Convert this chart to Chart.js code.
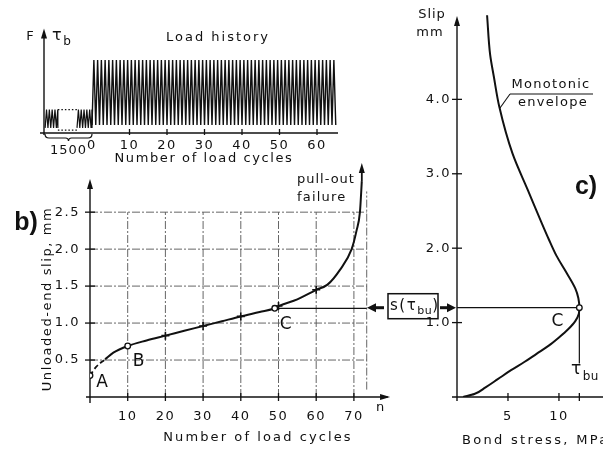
<!DOCTYPE html>
<html lang="en">
<head>
<meta charset="UTF-8">
<title>Bond slip under cyclic loading</title>
<script src="https://cdn.jsdelivr.net/npm/chart.js"></script>
<style>
  body { margin: 0; background: #fff; }
  #wrap { position: relative; width: 603px; height: 451px; overflow: hidden; background: #fff; }
  canvas { position: absolute; }
  #loadChart { left: 0; top: 0; }
  #slipChart { left: 0; top: 150px; }
  #bondChart { left: 360px; top: 0; }
</style>
</head>
<body>
<div id="wrap">
  <canvas id="loadChart" width="345" height="170"></canvas>
  <canvas id="slipChart" width="400" height="301"></canvas>
  <canvas id="bondChart" width="243" height="451"></canvas>
</div>
<script>
// ---- load history (top) ----
const preLoad = [0.07, 0.32];               // low / high of the 1500 pre-cycles
const preParts = [[-12.5, -9.1], [-4.0, 0]]; // drawn bits either side of the gap (compressed axis)
const mainLoad = [0.11, 1.0];               // low / high of the test cycles
const mainCycles = 65;
const loadTicks = [0, 10, 20, 30, 40, 50, 60];

// ---- b) unloaded-end slip vs number of cycles ----
const startN = [0, 1.5, 4];
const startSlip = [0.29, 0.40, 0.51];
const curveN = [4, 6.2, 10, 15, 20, 25, 30, 35, 40, 45, 49, 50, 55, 60, 63, 66.3, 69.4, 70.7, 71.6, 72.1];
const curveSlip = [0.51, 0.60, 0.69, 0.765, 0.83, 0.895, 0.96, 1.025, 1.09, 1.15, 1.2, 1.23, 1.32, 1.45, 1.52, 1.72, 2.0, 2.25, 2.5, 2.92];
const markN = [20, 30, 40, 50, 60];
const markSlip = [0.83, 0.96, 1.09, 1.23, 1.45];
const openN = [0, 10, 49];
const openSlip = [0.29, 0.69, 1.2];
const openNames = ['A', 'B', 'C'];
const cycleTicks = [0, 10, 20, 30, 40, 50, 60, 70];
const slipTicksB = [0, 0.5, 1.0, 1.5, 2.0, 2.5];
const lastGridN = 73.4;

// ---- c) monotonic envelope ----
const envStress = [0.6, 1.7, 2.8, 4.0, 5.3, 6.6, 7.8, 9.0, 10.0, 10.9, 11.6, 11.95, 12.0, 11.9, 11.6, 10.7, 9.75, 9.0, 8.3, 6.95, 5.45, 4.15, 3.62, 3.25, 2.95];
const envSlip = [0, 0.04, 0.13, 0.24, 0.36, 0.47, 0.58, 0.69, 0.8, 0.91, 1.02, 1.12, 1.2, 1.33, 1.46, 1.68, 1.9, 2.12, 2.34, 2.78, 3.27, 3.9, 4.3, 4.6, 5.13];
const tauBu = 12;
const sTauBu = 1.2;
const stressTicks = [0, 5, 10, 12];
const slipTicksC = [0, 1, 2, 3, 4];

const ink = '#111';
Chart.defaults.font.family = 'DejaVu Sans';
Chart.defaults.font.size = 13;
Chart.defaults.color = ink;

const pts = (xs, ys) => xs.map((v, i) => ({ x: v, y: ys[i] }));

function zigzag(from, to, step, lo, hi) {
  const out = [];
  for (let n = from; n < to - 1e-9; n += step) {
    out.push({ x: n, y: lo }, { x: n + step / 2, y: hi });
  }
  out.push({ x: to, y: lo });
  return out;
}

// small drawing helpers
function seg(ctx, x1, y1, x2, y2, w, dash) {
  ctx.save();
  ctx.strokeStyle = ink; ctx.lineWidth = w || 1.3;
  ctx.setLineDash(dash || []);
  ctx.beginPath(); ctx.moveTo(x1, y1); ctx.lineTo(x2, y2); ctx.stroke();
  ctx.restore();
}
function head(ctx, x, y, dir, l, w) {
  l = l || 9; w = w || 3;
  ctx.save(); ctx.fillStyle = ink; ctx.beginPath();
  if (dir === 'up') { ctx.moveTo(x, y); ctx.lineTo(x - w, y + l); ctx.lineTo(x + w, y + l); }
  if (dir === 'right') { ctx.moveTo(x, y); ctx.lineTo(x - l, y - w); ctx.lineTo(x - l, y + w); }
  if (dir === 'left') { ctx.moveTo(x, y); ctx.lineTo(x + l, y - w); ctx.lineTo(x + l, y + w); }
  ctx.closePath(); ctx.fill(); ctx.restore();
}
function txt(ctx, s, x, y, font, align, sp) {
  ctx.save();
  ctx.font = font || '13px DejaVu Sans';
  ctx.letterSpacing = sp || '1.5px';
  ctx.textAlign = align || 'left'; ctx.textBaseline = 'middle';
  ctx.fillStyle = ink; ctx.fillText(s, x, y);
  ctx.restore();
}
// "τ" with a subscript, returns end x
function tauSub(ctx, x, y, sub, size) {
  ctx.save();
  ctx.fillStyle = ink; ctx.textBaseline = 'middle'; ctx.textAlign = 'left';
  ctx.font = size + 'px DejaVu Sans';
  ctx.fillText('τ', x, y);
  const w = ctx.measureText('τ').width;
  ctx.font = Math.round(size * 0.72) + 'px DejaVu Sans';
  ctx.letterSpacing = '0.5px';
  ctx.fillText(sub, x + w, y + size * 0.38);
  const w2 = ctx.measureText(sub).width;
  ctx.restore();
  return x + w + w2;
}
const spacing = { id: 'spacing', beforeDraw(chart) { chart.ctx.letterSpacing = '1.5px'; } };

function fixedAxis(opts) {
  return Object.assign({
    type: 'linear',
    grid: { display: false, drawTicks: false },
    border: { display: false },
    ticks: { autoSkip: false, maxRotation: 0, font: { size: 13 } }
  }, opts);
}
const base = {
  responsive: false, animation: false, devicePixelRatio: 1, events: [],
  plugins: { legend: { display: false }, tooltip: { enabled: false } }
};

// ================= load history =================
new Chart(document.getElementById('loadChart'), {
  type: 'line',
  data: {
    datasets: [
      ...preParts.map(p => ({
        data: zigzag(p[0], p[1], 0.75, preLoad[0], preLoad[1]),
        borderColor: ink, borderWidth: 1.2, pointRadius: 0, tension: 0
      })),
      {
        data: zigzag(0, mainCycles, 1, mainLoad[0], mainLoad[1]),
        borderColor: ink, borderWidth: 1.4, pointRadius: 0, tension: 0
      }
    ]
  },
  options: Object.assign({}, base, {
    layout: { padding: { left: 0, right: 7, top: 27, bottom: 0 } },
    scales: {
      x: fixedAxis({
        min: -12.8, max: 65.6,
        afterBuildTicks: s => { s.ticks = loadTicks.map(v => ({ value: v })); },
        afterFit: s => { s.height = 37; },
        ticks: { autoSkip: false, maxRotation: 0, padding: 5, font: { size: 13 } }
      }),
      y: fixedAxis({
        min: 0, max: 1.45,
        afterFit: s => { s.width = 44; },
        ticks: { display: false }
      })
    }
  }),
  plugins: [spacing, {
    id: 'loadDeco',
    afterDatasetsDraw(chart) {
      const { ctx, scales: { x, y } } = chart;
      const x0 = x.getPixelForValue(x.min), y0 = y.getPixelForValue(0);
      seg(ctx, x0, y0 + 2, x0, y.getPixelForValue(1.3), 1.4);
      head(ctx, x0, y.getPixelForValue(1.43), 'up', 10, 3);
      seg(ctx, x0 - 4, y0, x.getPixelForValue(x.max), y0, 1.4);
      loadTicks.forEach(v => { if (v > 0) seg(ctx, x.getPixelForValue(v), y0 - 4, x.getPixelForValue(v), y0 + 2, 1.3); });
      // dotted gap between the two drawn bits of the 1500 cycles
      const g1 = x.getPixelForValue(preParts[0][1]), g2 = x.getPixelForValue(preParts[1][0]);
      seg(ctx, g1, y.getPixelForValue(preLoad[1]), g2, y.getPixelForValue(preLoad[1]), 1.2, [1.5, 2]);
      seg(ctx, g1, y.getPixelForValue(0.04), g2, y.getPixelForValue(0.04), 1.2, [1.5, 2]);
      // brace under the pre-cycles
      const bl = x0 + 1, br = x.getPixelForValue(0), bm = (bl + br) / 2, by = y0 + 5;
      ctx.save(); ctx.strokeStyle = ink; ctx.lineWidth = 1.2; ctx.beginPath();
      ctx.moveTo(bl, y0 + 1); ctx.quadraticCurveTo(bl, by, bl + 4, by);
      ctx.lineTo(bm - 3, by); ctx.quadraticCurveTo(bm, by, bm, by + 3);
      ctx.quadraticCurveTo(bm, by, bm + 3, by); ctx.lineTo(br - 4, by);
      ctx.quadraticCurveTo(br, by, br, y0 + 1); ctx.stroke(); ctx.restore();
      txt(ctx, '1500', bm, 151, '13px DejaVu Sans', 'center', '1px');
      txt(ctx, 'Number of load cycles', 204, 158.5, '13px DejaVu Sans', 'center', '1.6px');
      txt(ctx, 'Load history', 218, 38, '13px DejaVu Sans', 'center', '2px');
      txt(ctx, 'F', 30, 37, '13px DejaVu Sans', 'center', '0px');
      tauSub(ctx, 52, 36, 'b', 16);
    }
  }]
});

// ================= b) slip vs cycles =================
new Chart(document.getElementById('slipChart'), {
  type: 'line',
  data: {
    datasets: [
      { data: pts(openN, openSlip), showLine: false, pointStyle: 'circle', pointRadius: 2.8, pointBackgroundColor: '#fff', pointBorderColor: ink, pointBorderWidth: 1.3 },
      { data: pts(markN, markSlip), showLine: false, pointStyle: 'cross', pointRadius: 4, pointBorderColor: ink, pointBorderWidth: 1.6 },
      { data: pts(curveN, curveSlip), borderColor: ink, borderWidth: 2, pointRadius: 0, cubicInterpolationMode: 'monotone' },
      { data: pts(startN, startSlip), borderColor: ink, borderWidth: 1.8, borderDash: [5, 3], pointRadius: 0, cubicInterpolationMode: 'monotone' },
      { data: [{ x: openN[2], y: sTauBu }, { x: lastGridN, y: sTauBu }], borderColor: ink, borderWidth: 1.3, pointRadius: 0, tension: 0 }
    ]
  },
  options: Object.assign({}, base, {
    layout: { padding: { left: 0, right: 8.4, top: 12.6, bottom: 0 } },
    scales: {
      x: fixedAxis({
        min: 0, max: 80,
        afterBuildTicks: s => { s.ticks = cycleTicks.map(v => ({ value: v })); },
        afterFit: s => { s.height = 54; },
        ticks: { autoSkip: false, maxRotation: 0, padding: 12, font: { size: 13 }, callback: v => (v === 0 ? '' : v) }
      }),
      y: fixedAxis({
        min: 0, max: 3.1,
        afterBuildTicks: s => { s.ticks = slipTicksB.map(v => ({ value: v })); },
        afterFit: s => { s.width = 90; },
        ticks: { autoSkip: false, padding: 10, font: { size: 13 }, callback: v => (v === 0 ? '' : v.toFixed(1)) }
      })
    }
  }),
  plugins: [spacing, {
    id: 'slipDeco',
    beforeDatasetsDraw(chart) {
      const { ctx, scales: { x, y } } = chart;
      const px = v => x.getPixelForValue(v), py = v => y.getPixelForValue(v);
      // grid
      ctx.save(); ctx.strokeStyle = '#555'; ctx.lineWidth = 0.9; ctx.setLineDash([8, 2, 2, 2]);
      slipTicksB.forEach(v => { if (v > 0) { ctx.beginPath(); ctx.moveTo(px(0), py(v)); ctx.lineTo(px(lastGridN), py(v)); ctx.stroke(); } });
      cycleTicks.forEach(n => { if (n > 0) { ctx.beginPath(); ctx.moveTo(px(n), py(0)); ctx.lineTo(px(n), py(2.5)); ctx.stroke(); } });
      ctx.beginPath(); ctx.moveTo(px(lastGridN), py(0.1)); ctx.lineTo(px(lastGridN), py(2.78)); ctx.stroke();
      ctx.restore();
      // axes with arrows and ticks
      seg(ctx, px(0), py(0) + 6, px(0), py(2.85), 1.4);
      head(ctx, px(0), py(2.95), 'up', 10, 3);
      seg(ctx, px(0) - 4, py(0), px(79), py(0), 1.4);
      head(ctx, px(79.6), py(0), 'right', 10, 3);
      slipTicksB.forEach(v => { if (v > 0) seg(ctx, px(0) - 5, py(v), px(0) + 5, py(v), 1.3); });
      cycleTicks.forEach(n => { if (n > 0) seg(ctx, px(n), py(0) - 4, px(n), py(0) + 4, 1.3); });
    },
    afterDatasetsDraw(chart) {
      const { ctx, scales: { x, y } } = chart;
      const px = v => x.getPixelForValue(v), py = v => y.getPixelForValue(v);
      const offs = [[12, 7], [11, 16], [11, 16]];
      openNames.forEach((s, i) => txt(ctx, s, px(openN[i]) + offs[i][0], py(openSlip[i]) + offs[i][1], '17px DejaVu Sans', 'center', '0px'));
      // pull-out failure arrow
      const fx = px(curveN[curveN.length - 1]);
      seg(ctx, fx, py(curveSlip[curveSlip.length - 1]), fx, 22, 1.8);
      head(ctx, fx, 13, 'up', 10, 3);
      txt(ctx, 'pull-out', 297, 30, '13px DejaVu Sans', 'left', '1px');
      txt(ctx, 'failure', 297, 48, '13px DejaVu Sans', 'left', '1.2px');
      txt(ctx, 'n', 380, 258, '13px DejaVu Sans', 'center', '0px');
      txt(ctx, 'Number of load cycles', 258, 288, '13px DejaVu Sans', 'center', '2.1px');
      txt(ctx, 'b)', 26, 73, 'bold 25px Liberation Sans', 'center', '0px');
      ctx.save(); ctx.translate(48, 149); ctx.rotate(-Math.PI / 2);
      txt(ctx, 'Unloaded-end slip, mm', 0, 0, '13px DejaVu Sans', 'center', '1.6px');
      ctx.restore();
    }
  }]
});

// ================= c) monotonic envelope =================
// slip (y) is the index axis here, so the monotone spline follows the slip direction
new Chart(document.getElementById('bondChart'), {
  type: 'line',
  data: {
    datasets: [
      { data: [{ x: tauBu, y: sTauBu }], showLine: false, pointStyle: 'circle', pointRadius: 2.8, pointBackgroundColor: '#fff', pointBorderColor: ink, pointBorderWidth: 1.3 },
      { data: pts(envStress, envSlip), borderColor: ink, borderWidth: 2, pointRadius: 0, cubicInterpolationMode: 'monotone' },
      { data: [{ x: 0, y: sTauBu }, { x: tauBu, y: sTauBu }], borderColor: ink, borderWidth: 1.3, pointRadius: 0, tension: 0 }
    ]
  },
  options: Object.assign({}, base, {
    indexAxis: 'y',
    layout: { padding: { left: 0, right: 0, top: 7.7, bottom: 0 } },
    scales: {
      x: fixedAxis({
        min: 0, max: 13.8,
        afterBuildTicks: s => { s.ticks = stressTicks.map(v => ({ value: v })); },
        afterFit: s => { s.height = 54; },
        ticks: { autoSkip: false, maxRotation: 0, padding: 12, font: { size: 13 }, callback: v => (v === 0 || v === tauBu ? '' : v) }
      }),
      y: fixedAxis({
        min: 0, max: 5.15,
        afterBuildTicks: s => { s.ticks = slipTicksC.map(v => ({ value: v })); },
        afterFit: s => { s.width = 97; },
        ticks: { autoSkip: false, padding: 6, font: { size: 13 }, callback: v => (v === 0 ? '' : v.toFixed(1)) }
      })
    }
  }),
  plugins: [spacing, {
    id: 'bondDeco',
    beforeDatasetsDraw(chart) {
      const { ctx, scales: { x, y } } = chart;
      const px = v => x.getPixelForValue(v), py = v => y.getPixelForValue(v);
      seg(ctx, px(0), py(0) + 4, px(0), py(5.0), 1.4);
      head(ctx, px(0), py(5.12), 'up', 10, 3);
      seg(ctx, px(0) - 5, py(0), chart.width, py(0), 1.4);
      slipTicksC.forEach(v => { if (v > 0) seg(ctx, px(0) - 5, py(v), px(0) + 5, py(v), 1.3); });
      stressTicks.forEach(v => { if (v > 0) seg(ctx, px(v), py(0) - 4, px(v), py(0) + 4, 1.3); });
      // tau_bu drop line
      seg(ctx, px(tauBu), py(sTauBu), px(tauBu), py(0.45), 1.2);
    },
    afterDatasetsDraw(chart) {
      const { ctx, scales: { x, y } } = chart;
      const px = v => x.getPixelForValue(v), py = v => y.getPixelForValue(v);
      const ys = py(sTauBu);
      txt(ctx, 'Slip', 72, 15, '13px DejaVu Sans', 'center', '1px');
      txt(ctx, 'mm', 70, 33, '13px DejaVu Sans', 'center', '1px');
      txt(ctx, 'Monotonic', 191, 85, '13px DejaVu Sans', 'center', '1.3px');
      txt(ctx, 'envelope', 193, 103, '13px DejaVu Sans', 'center', '1.3px');
      seg(ctx, 150, 94, 233, 94, 1.1);
      seg(ctx, 150, 94, px(4.2), py(3.88), 1.1);
      txt(ctx, 'c)', 226, 187, 'bold 25px Liberation Sans', 'center', '0px');
      txt(ctx, 'C', px(tauBu) - 22, ys + 14, '17px DejaVu Sans', 'center', '0px');
      tauSub(ctx, 211, 370, 'bu', 17);
      txt(ctx, 'Bond stress, MPa', 102, 441, '13px DejaVu Sans', 'left', '2.3px');
      // s(tau_bu) box with its arrows
      ctx.save(); ctx.strokeStyle = ink; ctx.lineWidth = 1.5; ctx.strokeRect(28, ys - 14, 50, 25); ctx.restore();
      ctx.save(); ctx.font = '15px DejaVu Sans'; ctx.fillStyle = ink; ctx.textBaseline = 'middle';
      ctx.fillText('s(', 30, ys - 2);
      const w = ctx.measureText('s(').width;
      const end = tauSub(ctx, 30 + w, ys - 2, 'bu', 15);
      ctx.font = '15px DejaVu Sans'; ctx.fillText(')', end, ys - 2);
      ctx.restore();
      seg(ctx, 14, ys, 24, ys, 3);
      head(ctx, 7, ys, 'left', 9, 4.5);
      seg(ctx, 80, ys, 88, ys, 3);
      head(ctx, px(0) - 1, ys, 'right', 9, 4.5);
    }
  }]
});
</script>
</body>
</html>
